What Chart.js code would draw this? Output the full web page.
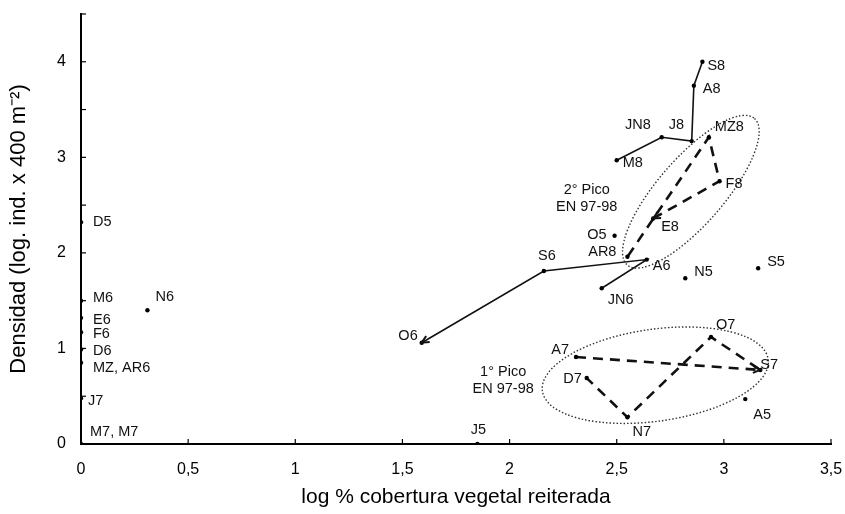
<!DOCTYPE html>
<html>
<head>
<meta charset="utf-8">
<script src="https://cdn.jsdelivr.net/npm/chart.js@4"></script>
<style>
  html, body { margin: 0; padding: 0; background: #fff; }
  #wrap { width: 845px; height: 514px; }
</style>
</head>
<body>
<div id="wrap"><canvas id="myChart"></canvas></div>
<script>
// sampling months, x = log % cobertura, y = log densidad
const pointNames = ["D5", "M6", "E6", "F6", "D6", "MZ, AR6", "J7", "M7, M7", "N6", "O6", "S6", "A6", "JN6",
    "AR8", "O5", "E8", "F8", "MZ8", "J8", "JN8", "M8", "A8", "S8", "N5", "S5",
    "A7", "D7", "N7", "O7", "S7", "A5", "J5"];
const coverX = [0, 0, 0, 0, 0, 0, 0, 0, 0.31, 1.59, 2.16, 2.64, 2.43,
    2.55, 2.49, 2.67, 2.98, 2.93, 2.85, 2.71, 2.50, 2.86, 2.90, 2.82, 3.16,
    2.31, 2.36, 2.55, 2.94, 3.17, 3.10, 1.85];
const densityY = [2.32, 1.50, 1.32, 1.17, 0.99, 0.85, 0.48, 0, 1.40, 1.06, 1.81, 1.93, 1.63,
    1.96, 2.18, 2.36, 2.75, 3.21, 3.17, 3.21, 2.97, 3.75, 4.00, 1.735, 1.84,
    0.91, 0.69, 0.28, 1.12, 0.775, 0.47, 0];

const solidPaths = [["M8", "JN8", "J8", "A8", "S8"], ["JN6", "A6", "S6", "O6"]];
const dashedPaths = [["E8", "F8", "MZ8", "AR8"], ["A7", "S7", "O7", "N7", "D7"]];
const arrowSegments = [["S6", "O6"], ["A7", "S7"], ["F8", "E8"]];

const xTicks = [0, 0.5, 1, 1.5, 2, 2.5, 3, 3.5];
const yTicks = [0, 0.5, 1, 1.5, 2, 2.5, 3, 3.5, 4, 4.5];

// label placement next to each point: [dx, dy, align]
const labelPlace = {
    "D5": [12, 0, "left"], "M6": [12, -3, "left"], "E6": [12, 2, "left"], "F6": [12, 2, "left"],
    "D6": [12, 2, "left"], "MZ, AR6": [12, 5, "left"], "J7": [7, 3, "left"], "M7, M7": [9, -12, "left"],
    "N6": [8, -13, "left"], "O6": [-4, -7, "right"], "S6": [3, -15, "center"], "A6": [6, 6, "left"],
    "JN6": [6, 12, "left"], "AR8": [-11, -5, "right"], "O5": [-8, -1, "right"], "E8": [8, 9, "left"],
    "F8": [6, 3, "left"], "MZ8": [6, -10, "left"], "J8": [-23, -16, "left"], "JN8": [-11, -12, "right"],
    "M8": [6, 3, "left"], "A8": [9, 3, "left"], "S8": [5, 4, "left"], "N5": [9, -6, "left"],
    "S5": [9, -6, "left"], "A7": [-7, -7, "right"], "D7": [-5, 1, "right"], "N7": [5, 15, "left"],
    "O7": [5, -12, "left"], "S7": [0, -5, "left"], "A5": [8, 16, "left"], "J5": [1, -14, "center"]
};

// peak ellipses (center in data units)
const peaks = [
    { cx: 2.846, cy: 2.64, rx: 97, ry: 33, rot: -49, text: ["2° Pico", "EN 97-98"], tx: 2.36, ty: [2.66, 2.48] },
    { cx: 2.68, cy: 0.72, rx: 114, ry: 46, rot: -8, text: ["1° Pico", "EN 97-98"], tx: 1.97, ty: [0.754, 0.576] }
];

function pt(name) {
    const i = pointNames.indexOf(name);
    return { x: coverX[i], y: densityY[i] };
}

const datasets = [{
    data: pointNames.map(pt),
    pointRadius: 2.2,
    pointBackgroundColor: "#000",
    pointBorderWidth: 0,
    showLine: false
}];
solidPaths.forEach(function (p) {
    datasets.push({ data: p.map(pt), showLine: true, borderColor: "#111", borderWidth: 1.6, pointRadius: 0 });
});
dashedPaths.forEach(function (p) {
    datasets.push({ data: p.map(pt), showLine: true, borderColor: "#111", borderWidth: 2.6, borderDash: [10, 7], pointRadius: 0 });
});

const decorations = {
    id: "decorations",
    afterDatasetsDraw(chart) {
        const ctx = chart.ctx, xs = chart.scales.x, ys = chart.scales.y;
        ctx.save();
        // ellipses
        ctx.strokeStyle = "#333";
        ctx.lineWidth = 1.4;
        ctx.setLineDash([1.5, 2]);
        peaks.forEach(function (e) {
            ctx.beginPath();
            ctx.ellipse(xs.getPixelForValue(e.cx), ys.getPixelForValue(e.cy), e.rx, e.ry, e.rot * Math.PI / 180, 0, 2 * Math.PI);
            ctx.stroke();
        });
        ctx.setLineDash([]);
        // arrow heads
        ctx.strokeStyle = "#111";
        ctx.lineWidth = 2;
        arrowSegments.forEach(function (s) {
            const a = pt(s[0]), b = pt(s[1]);
            const x1 = xs.getPixelForValue(a.x), y1 = ys.getPixelForValue(a.y);
            const x2 = xs.getPixelForValue(b.x), y2 = ys.getPixelForValue(b.y);
            const ang = Math.atan2(y2 - y1, x2 - x1);
            ctx.beginPath();
            ctx.moveTo(x2 - 8 * Math.cos(ang - 0.45), y2 - 8 * Math.sin(ang - 0.45));
            ctx.lineTo(x2, y2);
            ctx.lineTo(x2 - 8 * Math.cos(ang + 0.45), y2 - 8 * Math.sin(ang + 0.45));
            ctx.stroke();
        });
        // point labels
        ctx.fillStyle = "#111";
        ctx.font = "14.5px 'Liberation Sans', Arial, sans-serif";
        ctx.textBaseline = "middle";
        pointNames.forEach(function (n, i) {
            const p = labelPlace[n] || [10, 0, "left"];
            ctx.textAlign = p[2];
            ctx.fillText(n, xs.getPixelForValue(coverX[i]) + p[0], ys.getPixelForValue(densityY[i]) + p[1]);
        });
        ctx.textAlign = "center";
        peaks.forEach(function (e) {
            e.text.forEach(function (t, k) {
                ctx.fillText(t, xs.getPixelForValue(e.tx), ys.getPixelForValue(e.ty[k]));
            });
        });
        // inner tick marks
        ctx.lineWidth = 1.2;
        ctx.strokeStyle = "#000";
        const y0 = ys.getPixelForValue(0), x0 = xs.getPixelForValue(0);
        xTicks.forEach(function (v) {
            const px = xs.getPixelForValue(v);
            ctx.beginPath(); ctx.moveTo(px, y0); ctx.lineTo(px, y0 - 5); ctx.stroke();
        });
        yTicks.forEach(function (v) {
            const py = ys.getPixelForValue(v);
            ctx.beginPath(); ctx.moveTo(x0, py); ctx.lineTo(x0 + 5, py); ctx.stroke();
        });
        ctx.restore();
    }
};

new Chart(document.getElementById("myChart"), {
    type: "scatter",
    data: { datasets: datasets },
    options: {
        responsive: true,
        maintainAspectRatio: false,
        animation: false,
        layout: { padding: { top: 14, right: 14, left: 0, bottom: 0 } },
        plugins: { legend: { display: false }, tooltip: { enabled: false } },
        scales: {
            x: {
                type: "linear", min: 0, max: 3.5,
                afterBuildTicks: function (s) { s.ticks = xTicks.map(v => ({ value: v })); },
                afterFit: function (s) { s.height = 70; s.paddingLeft = 0; s.paddingRight = 0; },
                grid: { display: false, drawTicks: false },
                border: { display: true, color: "#000", width: 2 },
                ticks: {
                    color: "#000", padding: 16,
                    font: { family: "'Liberation Sans', Arial", size: 16 },
                    callback: v => String(v).replace(".", ",")
                },
                title: {
                    display: true, text: "log % cobertura vegetal reiterada", color: "#000",
                    font: { family: "'Liberation Sans', Arial", size: 21 },
                    padding: { top: 4, bottom: 4.5 }
                }
            },
            y: {
                type: "linear", min: 0, max: 4.5,
                afterBuildTicks: function (s) { s.ticks = yTicks.map(v => ({ value: v })); },
                afterFit: function (s) { s.width = 81; s.paddingTop = 0; s.paddingBottom = 0; },
                grid: { display: false, drawTicks: false },
                border: { display: true, color: "#000", width: 2 },
                ticks: {
                    color: "#000", padding: 15,
                    font: { family: "'Liberation Sans', Arial", size: 16 },
                    callback: v => (Number.isInteger(v) ? String(v) : "")
                },
                title: {
                    display: true, text: "Densidad (log. ind. x 400 m⁻²)", color: "#000",
                    font: { family: "'Liberation Sans', Arial", size: 22 },
                    padding: { top: 6, bottom: 0 }
                }
            }
        }
    },
    plugins: [decorations]
});
</script>
</body>
</html>
